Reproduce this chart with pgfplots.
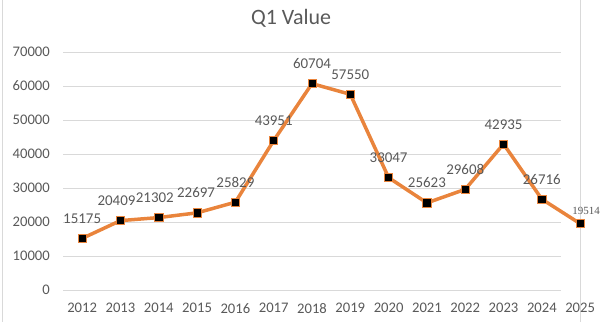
\documentclass[border=0pt]{standalone}
\usepackage{pgfplots}
\pgfplotsset{compat=1.18}
\usepackage{pgfplotstable}
\usepackage{fontspec}
\setmainfont{Carlito}
\newfontfamily\serifnum{Liberation Serif}
\definecolor{lineor}{HTML}{E9843C}
\definecolor{txtgray}{HTML}{595959}
\definecolor{gridgray}{HTML}{D9D9D9}
\pgfplotstableread{
x y dx
2012 15175 0
2013 20409 -4
2014 21302 -4
2015 22697 -1
2016 25829 0
2017 43951 0
2018 60704 0
2019 57550 0
2020 33047 0
2021 25623 0
2022 29608 0
2023 42935 0
2024 26716 0
}\mainpts
\pgfplotstableread{
x y
2024 26716
2025 19514
}\extrapts
\begin{document}
\begin{tikzpicture}
\path[use as bounding box] (0,0) rectangle (612bp,322bp);
\draw[gridgray, line width=0.8bp] (2.5bp,0) -- (2.5bp,322bp);
\draw[gridgray, line width=0.8bp] (580bp,0) -- (580bp,322bp);
\node[font=\fontsize{22}{26}\selectfont, text=txtgray] at (291bp,304bp) {Q1 Value};
\begin{axis}[
  at={(63bp,32bp)}, anchor=south west,
  scale only axis, width=498bp, height=238bp,
  xmin=2011.5, xmax=2024.5, ymin=0, ymax=70000,
  xtick={2012,2013,...,2024}, ytick={0,10000,...,70000},
  scaled y ticks=false,
  /pgf/number format/1000 sep={},
  /pgf/number format/assume math mode=true,
  axis line style={draw=none},
  major tick length=0pt,
  ymajorgrids, grid style={gridgray, line width=0.8bp},
  tick label style={font=\fontsize{14.7}{17}\selectfont, text=txtgray},
  yticklabel style={anchor=east, inner sep=0pt, xshift=-13bp},
  xticklabel style={anchor=north, inner sep=0pt, yshift=-13bp},
  clip=false,
]
\addplot[lineor, line width=3.5bp, line join=round, mark=none] table[x=x,y=y] {\mainpts};
\addplot[lineor, line width=3.5bp, line join=round, mark=none] table[x=x,y=y] {\extrapts};
\addplot[only marks, mark=square*, mark size=4.1bp,
  mark options={fill=black, draw=lineor, line width=0.7bp},
  visualization depends on={\thisrow{dx} \as \dx},
  nodes near coords,
  nodes near coords style={anchor=base, inner sep=0pt, yshift=15bp, xshift=\dx pt,
    font=\fontsize{15}{18}\selectfont, text=txtgray}
] table[x=x,y=y] {\mainpts};
\addplot[only marks, mark=square*, mark size=4.1bp,
  mark options={fill=black, draw=lineor, line width=0.7bp},
  nodes near coords,
  nodes near coords style={anchor=base, inner sep=0pt, yshift=9bp, xshift=6bp,
    font=\serifnum\fontsize{11}{13}\selectfont, text=txtgray}
] coordinates {(2025,19514)};
\node[anchor=north, inner sep=0pt, yshift=-13bp, font=\fontsize{14.7}{17}\selectfont, text=txtgray] at (axis cs:2025,0) {2025};
\end{axis}
\end{tikzpicture}
\end{document}
